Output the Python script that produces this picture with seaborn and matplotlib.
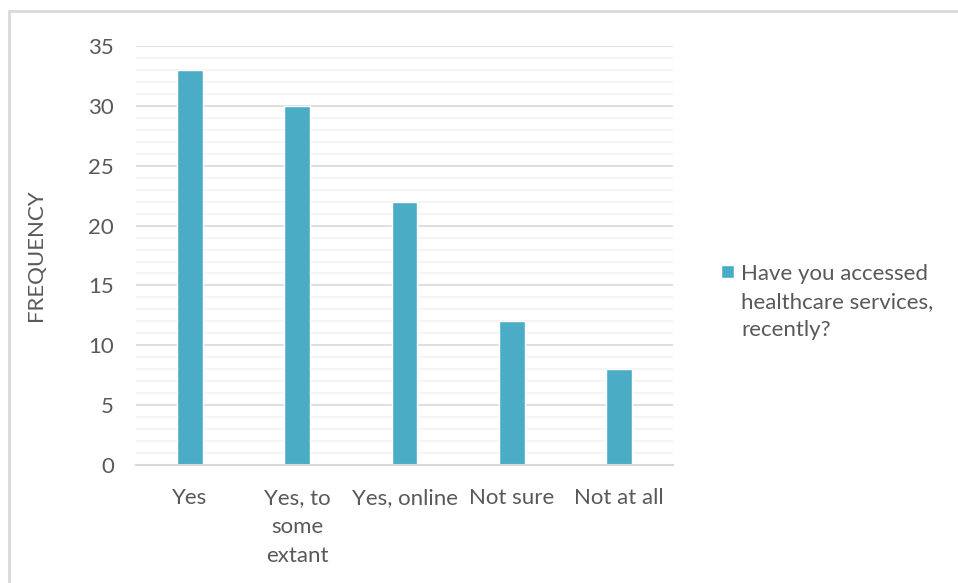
import matplotlib
matplotlib.use("Agg")
import matplotlib.pyplot as plt
import seaborn as sns
import pandas as pd
from matplotlib.lines import Line2D
from matplotlib.ticker import MultipleLocator

categories = ["Yes", "Yes, to\nsome\nextant", "Yes, online", "Not sure", "Not at all"]
frequency = [33, 30, 22, 12, 8]
series_name = "Have you accessed\nhealthcare services,\nrecently?"
y_ticks = [0, 5, 10, 15, 20, 25, 30, 35]

bar_color = "#4BACC6"
text_color = "#595959"
font_size = 16

sns.set_theme(style="white")
plt.rcParams["font.family"] = ["Lato", "DejaVu Sans"]
plt.rcParams["text.color"] = text_color

df = pd.DataFrame({"category": categories, "frequency": frequency})

fig = plt.figure(figsize=(9.58, 5.83), dpi=100)
ax = fig.add_axes([0.142, 0.2024, 0.5605, 0.7186])

sns.barplot(data=df, x="category", y="frequency", color=bar_color,
            width=0.24, saturation=1, label=series_name, ax=ax)

ax.set_ylim(0, 35)
ax.set_yticks(y_ticks)
ax.yaxis.set_minor_locator(MultipleLocator(1))
ax.set_xlim(-0.5, len(categories) - 0.5)

ax.grid(which="minor", axis="y", color="#F2F2F2", linewidth=1.2)
ax.grid(which="major", axis="y", color="#D9D9D9", linewidth=1.2)
ax.set_axisbelow(True)

for s in ["top", "right", "left"]:
    ax.spines[s].set_visible(False)
ax.spines["bottom"].set_color("#D9D9D9")
ax.spines["bottom"].set_linewidth(1.5)

ax.tick_params(axis="both", which="both", length=0, labelsize=font_size,
               labelcolor=text_color)
ax.tick_params(axis="y", pad=16)
ax.tick_params(axis="x", pad=16.5)
for lbl in ax.get_xticklabels():
    lbl.set_linespacing(1.57)

ax.set_xlabel("")
ax.set_ylabel("FREQUENCY", fontsize=font_size, color=text_color, labelpad=30)

leg = ax.legend(loc="center left", bbox_to_anchor=(1.053, 0.39), frameon=False,
                fontsize=font_size, handlelength=0.55, handleheight=0.55,
                handletextpad=0.35, labelcolor=text_color)
for t in leg.get_texts():
    t.set_linespacing(1.5)
# keep the colour key beside the first line of the label
key = leg.legend_handles[0]
key.set_y(key.get_y() + 22)

# light frame around the chart area
fig.add_artist(Line2D([8.5 / 958, 1], [1 - 11 / 583, 1 - 11 / 583],
                      transform=fig.transFigure, color="#D9D9D9", linewidth=2))
fig.add_artist(Line2D([9 / 958, 9 / 958], [0, 1 - 11 / 583],
                      transform=fig.transFigure, color="#D9D9D9", linewidth=2))

fig.savefig("out.png", dpi=100)
